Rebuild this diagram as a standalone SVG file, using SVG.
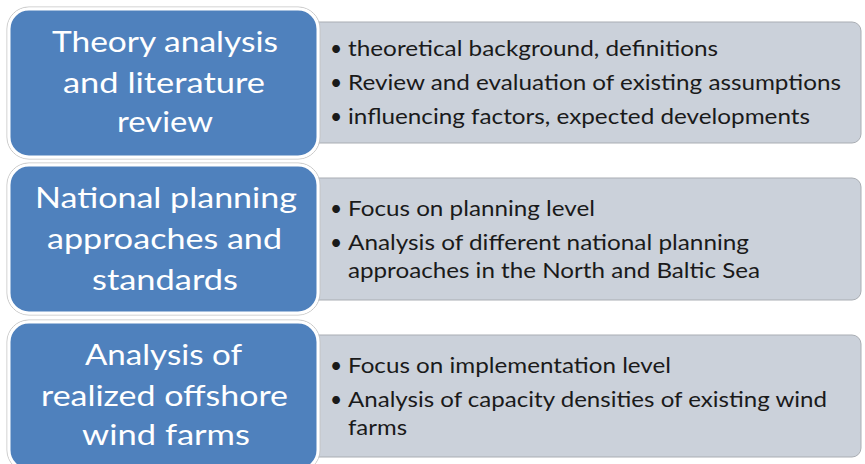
<svg xmlns="http://www.w3.org/2000/svg" width="865" height="464" viewBox="0 0 865 464">
<style>
.blue{fill:#4f81bd;stroke:#ffffff;stroke-width:3}
.outline{fill:none;stroke:#c4c4c4;stroke-width:1}
.gray{fill:#cbd1da;stroke:#a9adb3;stroke-width:1}
.title{font-family:Lato,"Open Sans",sans-serif;font-size:28px;fill:#ffffff}
.item{font-family:Lato,"Open Sans",sans-serif;font-size:21px;fill:#1a1a1a}
</style>
<rect width="865" height="464" fill="#ffffff"/>
<g id="row1">
<rect class="gray" x="300" y="22" width="561" height="121" rx="9"/>
<rect class="outline" x="7" y="7" width="313" height="152" rx="22"/>
<rect class="blue" x="9" y="9" width="309" height="148" rx="20"/>
<text class="title" x="52" y="52" textLength="226" lengthAdjust="spacingAndGlyphs">Theory analysis</text>
<text class="title" x="63" y="93" textLength="202" lengthAdjust="spacingAndGlyphs">and literature</text>
<text class="title" x="117" y="132" textLength="96" lengthAdjust="spacingAndGlyphs">review</text>
<text class="item" x="330" y="56">•</text>
<text class="item" x="330" y="90">•</text>
<text class="item" x="330" y="124">•</text>
<text class="item" x="348" y="56" textLength="370" lengthAdjust="spacingAndGlyphs">theoretical background, definitions</text>
<text class="item" x="348" y="90" textLength="493" lengthAdjust="spacingAndGlyphs">Review and evaluation of existing assumptions</text>
<text class="item" x="348" y="124" textLength="462" lengthAdjust="spacingAndGlyphs">influencing factors, expected developments</text>
</g>
<g id="row2">
<rect class="gray" x="300" y="178" width="561" height="122" rx="9"/>
<rect class="outline" x="7" y="163" width="313" height="152" rx="22"/>
<rect class="blue" x="9" y="165" width="309" height="148" rx="20"/>
<text class="title" x="35" y="208" textLength="262" lengthAdjust="spacingAndGlyphs">National planning</text>
<text class="title" x="47" y="249" textLength="235" lengthAdjust="spacingAndGlyphs">approaches and</text>
<text class="title" x="92" y="290" textLength="146" lengthAdjust="spacingAndGlyphs">standards</text>
<text class="item" x="330" y="216">•</text>
<text class="item" x="330" y="250">•</text>
<text class="item" x="348" y="216" textLength="247" lengthAdjust="spacingAndGlyphs">Focus on planning level</text>
<text class="item" x="348" y="250" textLength="401" lengthAdjust="spacingAndGlyphs">Analysis of different national planning</text>
<text class="item" x="348" y="278" textLength="412" lengthAdjust="spacingAndGlyphs">approaches in the North and Baltic Sea</text>
</g>
<g id="row3">
<rect class="gray" x="300" y="335" width="561" height="122" rx="9"/>
<rect class="outline" x="7" y="320" width="313" height="152" rx="22"/>
<rect class="blue" x="9" y="322" width="309" height="148" rx="20"/>
<text class="title" x="85" y="365" textLength="157" lengthAdjust="spacingAndGlyphs">Analysis of</text>
<text class="title" x="41" y="406" textLength="247" lengthAdjust="spacingAndGlyphs">realized offshore</text>
<text class="title" x="82" y="445" textLength="168" lengthAdjust="spacingAndGlyphs">wind farms</text>
<text class="item" x="330" y="373">•</text>
<text class="item" x="330" y="407">•</text>
<text class="item" x="348" y="373" textLength="323" lengthAdjust="spacingAndGlyphs">Focus on implementation level</text>
<text class="item" x="348" y="407" textLength="479" lengthAdjust="spacingAndGlyphs">Analysis of capacity densities of existing wind</text>
<text class="item" x="348" y="435" textLength="59" lengthAdjust="spacingAndGlyphs">farms</text>
</g>
<g id="connectors"/>
</svg>
